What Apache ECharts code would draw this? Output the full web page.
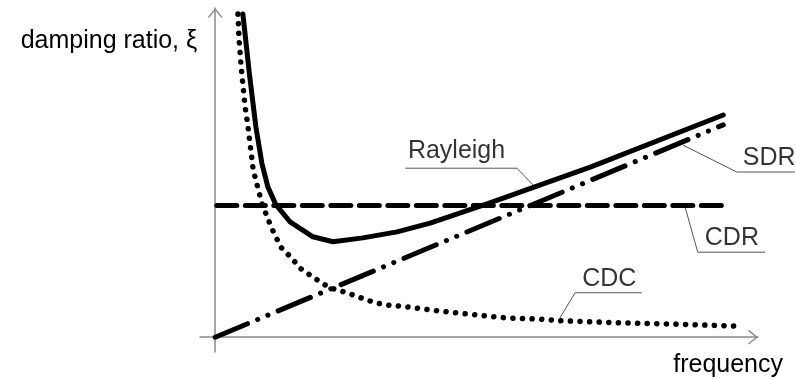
<!DOCTYPE html>
<html>
<head>
<meta charset="utf-8">
<script src="https://cdn.jsdelivr.net/npm/echarts@6/dist/echarts.min.js"></script>
<style>
  html, body { margin: 0; padding: 0; background: #fff; }
  #chart { width: 795px; height: 379px; }
</style>
</head>
<body>
<div id="chart"></div>
<script>
// Damping ratio models against frequency (arbitrary units)
const rayleighFreq  = [0.51, 0.63, 0.75, 0.86, 0.97, 1.12, 1.38, 1.80, 2.17, 2.72, 3.35, 3.96, 5.06, 6.91, 9.36];
const rayleighRatio = [5.89, 4.80, 3.83, 3.17, 2.74, 2.41, 2.10, 1.83, 1.74, 1.81, 1.92, 2.08, 2.45, 3.10, 4.05];

const cdcFreq  = [0.42, 0.44, 0.48, 0.55, 0.60, 0.70, 0.86, 1.03, 1.21, 1.42, 1.56, 1.75, 1.93, 2.11, 2.43, 2.65, 2.91, 3.13, 3.55, 4.10, 4.75, 5.38, 5.98, 6.35, 7.51, 8.43, 9.67];
const cdcRatio = [5.89, 5.42, 4.91, 4.20, 3.87, 3.05, 2.44, 2.01, 1.64, 1.43, 1.26, 1.13, 1.01, 0.90, 0.81, 0.73, 0.64, 0.59, 0.55, 0.48, 0.41, 0.35, 0.33, 0.30, 0.26, 0.24, 0.20];

const sdrFreq  = [0, 9.36];
const sdrRatio = [0, 3.87];

const cdrFreq  = [0.03, 9.33];
const cdrRatio = [2.40, 2.40];

// Callout text and leader polylines (anchor on curve -> elbow -> underline end)
const calloutNames = ['Rayleigh', 'SDR', 'CDR', 'CDC'];
const calloutTextAt = [[3.55, 3.40], [9.72, 3.26], [9.02, 1.81], [6.76, 1.05]];
const calloutLeaders = [
  [[5.86, 2.77], [5.56, 3.08], [3.50, 3.08]],
  [[8.62, 3.50], [9.61, 3.01], [10.68, 3.01]],
  [[8.66, 2.36], [8.89, 1.55], [10.13, 1.55]],
  [[6.35, 0.35], [6.63, 0.81], [7.86, 0.81]]
];

const FONT = "'Liberation Sans', Arial, sans-serif";
const zip = (xs, ys) => xs.map((x, i) => [x, ys[i]]);

// open chevron used as the axis arrow head
const chevron = 'path://M0,10 L8,0 L16,10 L14.8,10.9 L8,2.4 L1.2,10.9 Z';

const axisLine = {
  show: true,
  onZero: true,
  symbol: ['none', chevron],
  symbolSize: [16, 10],
  symbolOffset: [0, -5],
  lineStyle: { color: '#8a8a8a', width: 1.5 }
};

const chart = echarts.init(document.getElementById('chart'), null, { renderer: 'canvas' });

chart.setOption({
  animation: false,
  backgroundColor: '#ffffff',
  textStyle: { fontFamily: FONT },
  grid: { left: 200, right: 37, top: 8, bottom: 27, containLabel: false },
  xAxis: {
    type: 'value',
    min: -0.28,
    max: 10,
    axisLine: axisLine,
    axisTick: { show: false },
    axisLabel: { show: false },
    splitLine: { show: false },
    name: 'frequency',
    nameLocation: 'end',
    nameGap: 25,
    nameTextStyle: {
      fontFamily: FONT, fontSize: 25, color: '#000',
      align: 'right', verticalAlign: 'top', padding: [15, 0, 0, 0]
    }
  },
  yAxis: {
    type: 'value',
    min: -0.27,
    max: 6,
    axisLine: axisLine,
    axisTick: { show: false },
    axisLabel: { show: false },
    splitLine: { show: false },
    name: 'damping ratio, ξ',
    nameLocation: 'end',
    nameGap: -33,
    nameTextStyle: {
      fontFamily: FONT, fontSize: 25, color: '#000',
      align: 'right', verticalAlign: 'middle', padding: [0, 18, 0, 0]
    }
  },
  series: [
    {
      name: 'CDR',
      type: 'line',
      data: zip(cdrFreq, cdrRatio),
      symbol: 'none',
      lineStyle: { color: '#000', width: 5, type: [20, 8.5], cap: 'round' },
      z: 2
    },
    {
      name: 'SDR',
      type: 'line',
      data: zip(sdrFreq, sdrRatio),
      symbol: 'none',
      lineStyle: { color: '#000', width: 5, type: [35, 11, 0.1, 11, 0.1, 11], cap: 'round' },
      z: 3
    },
    {
      name: 'CDC',
      type: 'line',
      data: zip(cdcFreq, cdcRatio),
      symbol: 'none',
      lineStyle: { color: '#000', width: 5.5, type: [0.1, 9.5], cap: 'round' },
      z: 3
    },
    {
      name: 'Rayleigh',
      type: 'line',
      data: zip(rayleighFreq, rayleighRatio),
      symbol: 'none',
      lineStyle: { color: '#000', width: 5, cap: 'round', join: 'round' },
      z: 4
    },
    {
      name: 'leaders',
      type: 'lines',
      coordinateSystem: 'cartesian2d',
      polyline: true,
      clip: false,
      silent: true,
      lineStyle: { color: '#555', width: 1, opacity: 1 },
      data: calloutLeaders.map(c => ({ coords: c })),
      z: 5
    },
    {
      name: 'callouts',
      type: 'scatter',
      symbolSize: 0,
      clip: false,
      silent: true,
      itemStyle: { color: 'transparent' },
      label: {
        show: true,
        position: 'right',
        distance: 0,
        formatter: '{b}',
        fontFamily: FONT,
        fontSize: 25,
        color: '#000',
        align: 'left',
        verticalAlign: 'middle'
      },
      data: calloutNames.map((n, i) => ({ name: n, value: calloutTextAt[i] })),
      z: 6
    }
  ]
});
</script>
</body>
</html>
